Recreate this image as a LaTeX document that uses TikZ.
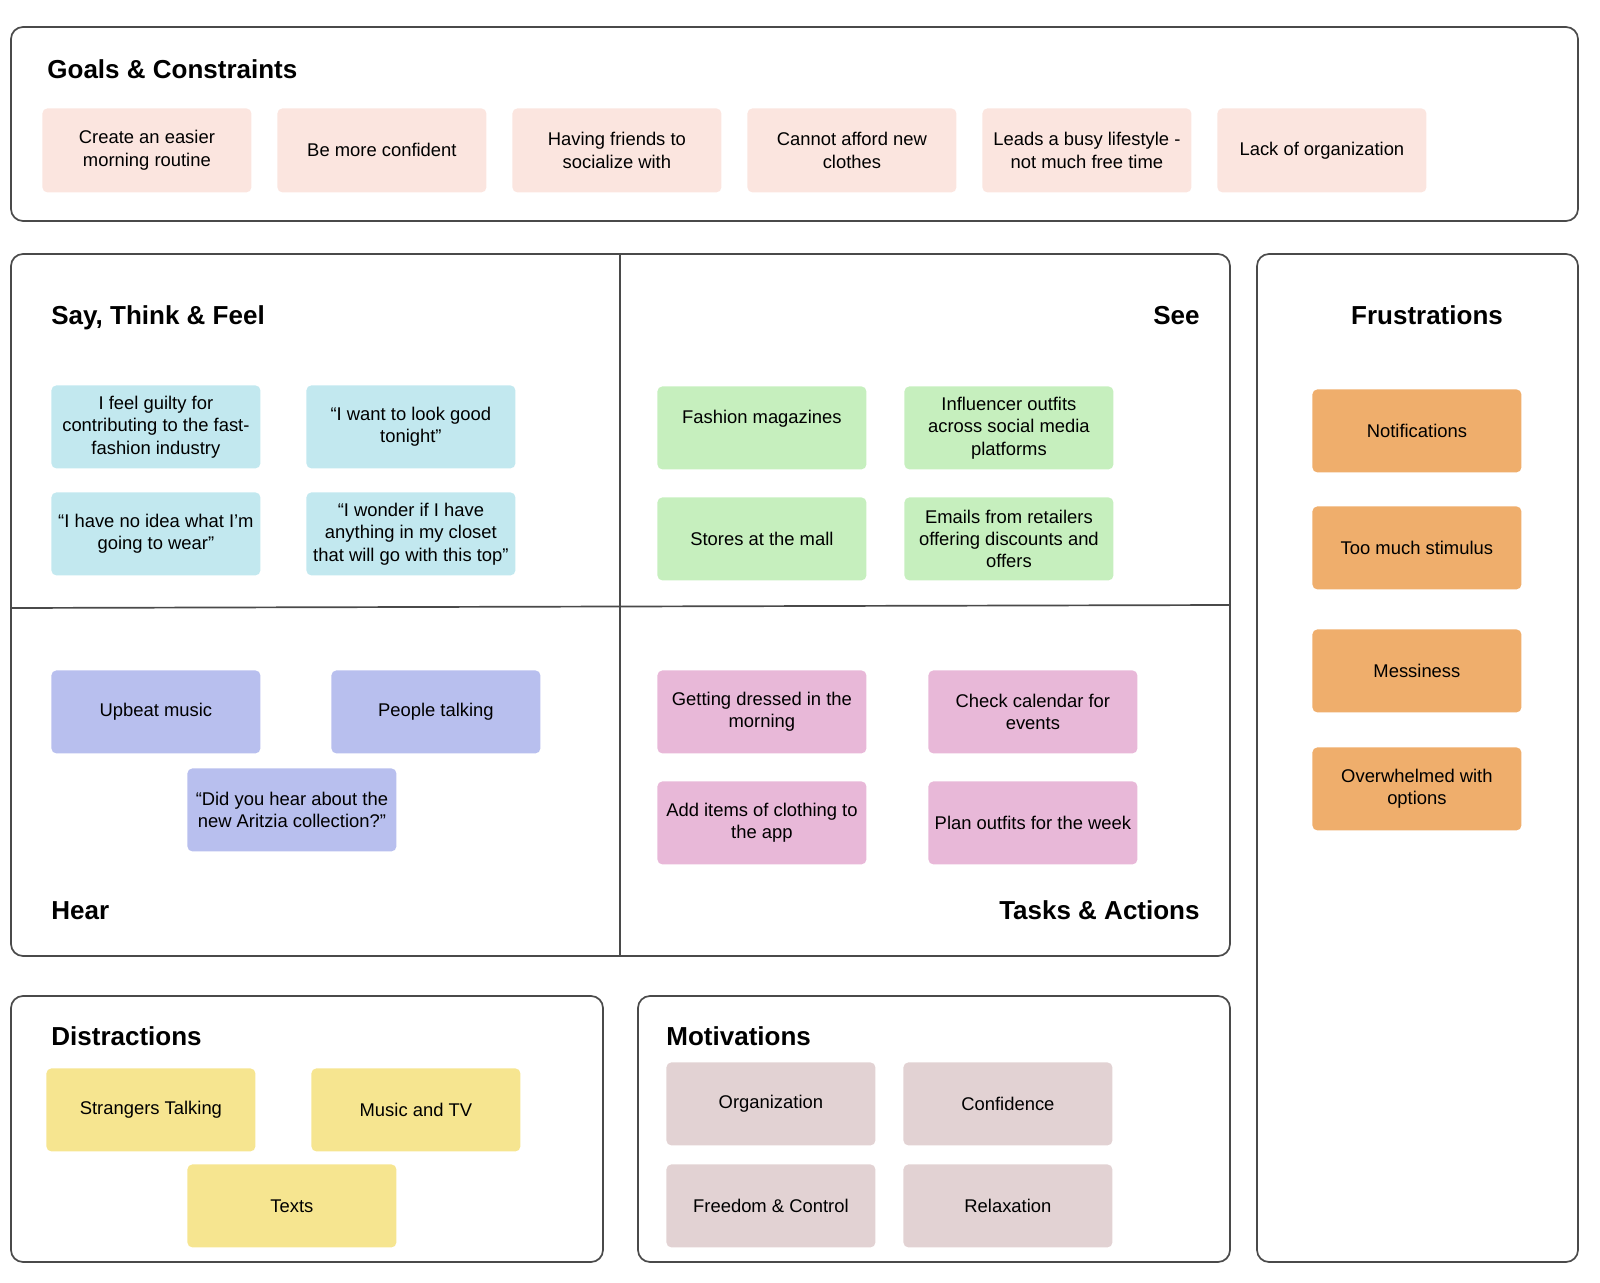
\documentclass[tikz,border=0pt]{standalone}
\usepackage{fontspec}
\setmainfont{Liberation Sans}

\definecolor{linegray}{HTML}{4A4A4A}
\definecolor{goalpink}{HTML}{FBE5DF}
\definecolor{saysky}{HTML}{C2E8EF}
\definecolor{seegreen}{HTML}{C6EFBE}
\definecolor{hearblue}{HTML}{B8BFEE}
\definecolor{taskpink}{HTML}{E8B8D8}
\definecolor{frusorange}{HTML}{EFAE6C}
\definecolor{distyellow}{HTML}{F6E590}
\definecolor{motivrose}{HTML}{E2D2D3}

\begin{document}
	\begin{tikzpicture}[x = .5pt, y = -.5pt]
		\tikzstyle{every node} = [font = \fontsize{9.2}{11.2}\selectfont]
		\tikzstyle{panel} = [draw = linegray, line width = .85pt, rounded corners = 6pt]
		\tikzstyle{title} = [font = \fontsize{13}{15}\selectfont\bfseries, inner sep = 0pt]
		\tikzstyle{note} = [rounded corners = 2.5pt, minimum width = 104.5pt, minimum height = 41.5pt, align = center, inner sep = 0pt, anchor = north west]
		\useasboundingbox (0,0) rectangle (1600,1283);

		% frames
		\draw [panel] (11,27) rectangle (1578,221); %goals
		\draw [panel] (11,254) rectangle (1230,956); %empathy quadrants
		\draw [linegray, line width = .85pt] (620,254) -- (620,956);
		\draw [linegray, line width = .85pt] (11,608) -- (1230,605);
		\draw [panel] (1257,254) rectangle (1578,1262); %frustrations
		\draw [panel] (11,996) rectangle (603,1262); %distractions
		\draw [panel] (638,996) rectangle (1230,1262); %motivations

		% titles, placed on their baselines
		\node [title, anchor = base west] (goals) at (47,79) {Goals \& Constraints};
		\node [title, anchor = base west] (say) at (51,325) {Say, Think \& Feel};
		\node [title, anchor = base east] (see) at (1200,325) {See};
		\node [title, anchor = base] (frus) at (1427,325) {Frustrations};
		\node [title, anchor = base west] (hear) at (51,919) {Hear};
		\node [title, anchor = base east] (tasks) at (1200,919) {Tasks \& Actions};
		\node [title, anchor = base west] (distr) at (51,1045) {Distractions};
		\node [title, anchor = base west] (motiv) at (666,1045) {Motivations};

		% goals and constraints
		\foreach \t [count = \i] in {{Create an easier\\morning routine}, {Be more confident}, {Having friends to\\socialize with}, {Cannot afford new\\clothes}, {Leads a busy lifestyle -\\not much free time}, {Lack of organization}}
		{
			\node [note, fill = goalpink, minimum height = 42pt] (goal\i) at ({42+235*(\i-1)},108) {\t};
		}

		% say, think and feel
		\node [note, fill = saysky] (say1) at (51,385) {I feel guilty for\\contributing to the fast-\\fashion industry};
		\node [note, fill = saysky] (say2) at (306,385) {“I want to look good\\tonight”};
		\node [note, fill = saysky] (say3) at (51,492) {“I have no idea what I’m\\going to wear”};
		\node [note, fill = saysky] (say4) at (306,492) {“I wonder if I have\\anything in my closet\\that will go with this top”};

		% see
		\node [note, fill = seegreen] (see1) at (657,386) {Fashion magazines\\~};
		\node [note, fill = seegreen] (see2) at (904,386) {Influencer outfits\\across social media\\platforms};
		\node [note, fill = seegreen] (see3) at (657,497) {Stores at the mall};
		\node [note, fill = seegreen] (see4) at (904,497) {Emails from retailers\\offering discounts and\\offers};

		% hear
		\node [note, fill = hearblue] (hear1) at (51,670) {Upbeat music};
		\node [note, fill = hearblue] (hear2) at (331,670) {People talking};
		\node [note, fill = hearblue] (hear3) at (187,768) {“Did you hear about the\\new Aritzia collection?”};

		% tasks and actions
		\node [note, fill = taskpink] (task1) at (657,670) {Getting dressed in the\\morning};
		\node [note, fill = taskpink] (task2) at (928,670) {Check calendar for\\events};
		\node [note, fill = taskpink] (task3) at (657,781) {Add items of clothing to\\the app};
		\node [note, fill = taskpink] (task4) at (928,781) {Plan outfits for the week};

		% frustrations
		\node [note, fill = frusorange] (frus1) at (1312,389) {Notifications};
		\node [note, fill = frusorange] (frus2) at (1312,506) {Too much stimulus};
		\node [note, fill = frusorange] (frus3) at (1312,629) {Messiness};
		\node [note, fill = frusorange] (frus4) at (1312,747) {Overwhelmed with\\options};

		% distractions
		\node [note, fill = distyellow] (distr1) at (46,1068) {Strangers Talking};
		\node [note, fill = distyellow] (distr2) at (311,1068) {Music and TV};
		\node [note, fill = distyellow] (distr3) at (187,1164) {Texts};

		% motivations
		\node [note, fill = motivrose] (motiv1) at (666,1062) {Organization};
		\node [note, fill = motivrose] (motiv2) at (903,1062) {Confidence};
		\node [note, fill = motivrose] (motiv3) at (666,1164) {Freedom \& Control};
		\node [note, fill = motivrose] (motiv4) at (903,1164) {Relaxation};
	\end{tikzpicture}
\end{document}
